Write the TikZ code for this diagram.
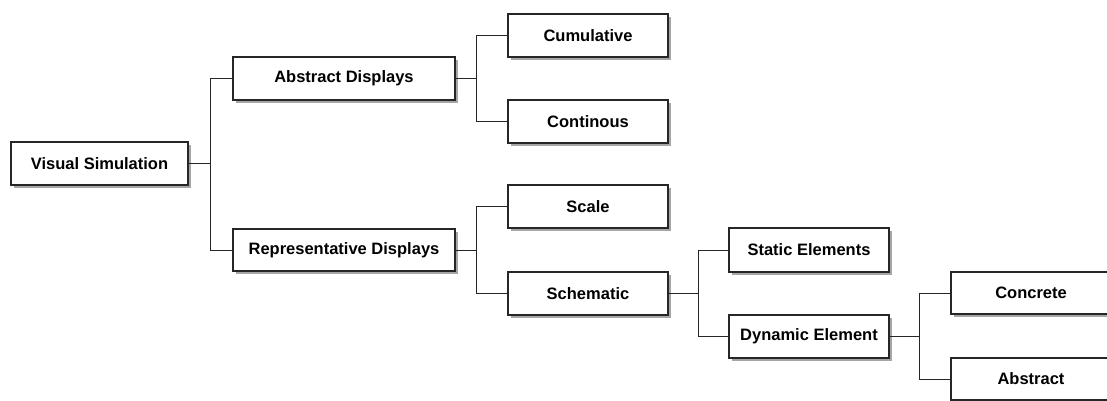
\documentclass[tikz,border=0pt]{standalone}
\usepackage{fontspec}
\setmainfont{Liberation Sans}
\usetikzlibrary{shadows}
\begin{document}
\begin{tikzpicture}[x=1pt,y=-1pt,
  box/.style={draw=black!85, line width=1.1pt, fill=white, inner sep=0pt,
    minimum height=43pt, font=\fontsize{16.5pt}{19pt}\selectfont\bfseries,
    drop shadow={shadow xshift=3pt, shadow yshift=-3pt, opacity=0.35, fill=black}},
  wide/.style={box, minimum width=222pt},
  mid/.style={box, minimum width=160pt},
  link/.style={draw=black!85, line width=1pt}]
\useasboundingbox (0,0) rectangle (1107,401);
\node[box, minimum width=177pt] (vs) at (99.5,163.5) {Visual Simulation};
\node[wide] (ad) at (344,78.5) {Abstract Displays};
\node[wide, minimum height=42pt] (rd) at (344,250) {Representative Displays};
\node[mid] (cum) at (588,35.5) {Cumulative};
\node[mid] (con) at (588,121.5) {Continous};
\node[mid] (sc) at (588,206.5) {Scale};
\node[mid] (sch) at (588,293.5) {Schematic};
\node[mid, minimum height=44pt] (st) at (809,250) {Static Elements};
\node[mid] (dy) at (809,336.5) {Dynamic Element};
\node[mid, minimum height=42pt] (cc) at (1031,293) {Concrete};
\node[mid, minimum height=42pt] (ab) at (1031,379) {Abstract};
\draw[link] (vs.east) -- ++(22,0) |- (ad.west);
\draw[link] (vs.east) -- ++(22,0) |- (rd.west);
\draw[link] (ad.east) -- ++(21,0) |- (cum.west);
\draw[link] (ad.east) -- ++(21,0) |- (con.west);
\draw[link] (rd.east) -- ++(21,0) |- (sc.west);
\draw[link] (rd.east) -- ++(21,0) |- (sch.west);
\draw[link] (sch.east) -- ++(30,0) |- (st.west);
\draw[link] (sch.east) -- ++(30,0) |- (dy.west);
\draw[link] (dy.east) -- ++(30,0) |- (cc.west);
\draw[link] (dy.east) -- ++(30,0) |- (ab.west);
\end{tikzpicture}
\end{document}
